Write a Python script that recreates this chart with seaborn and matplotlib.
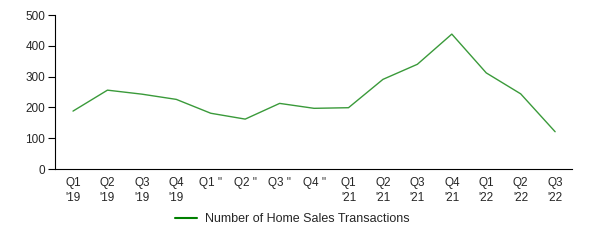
import matplotlib
matplotlib.use("Agg")
import matplotlib.pyplot as plt
import seaborn as sns
import pandas as pd

quarters = ["Q1\n'19", "Q2\n'19", "Q3\n'19", "Q4\n'19",
            "Q1 ''", "Q2 ''", "Q3 ''", "Q4 ''",
            "Q1\n'21", "Q2\n'21", "Q3\n'21", "Q4\n'21",
            "Q1\n'22", "Q2\n'22", "Q3\n'22"]
transactions = [188, 256, 243, 226, 181, 162, 213, 197, 199, 291, 340, 438, 312, 244, 121]
series_name = "Number of Home Sales Transactions"

sns.set_style("white")
plt.rcParams['font.family'] = ['Liberation Sans', 'DejaVu Sans']

df = pd.DataFrame({"x": range(len(quarters)), "y": transactions})

fig = plt.figure(figsize=(5.9, 2.4), dpi=100)
ax = fig.add_axes([55/590, 1-169/240, (572-55)/590, (169-15)/240])
sns.lineplot(data=df, x="x", y="y", ax=ax, color="#3a9a3a", linewidth=1.0,
             label=series_name)
ax.set_xlim(-0.523, 14.49)
ax.set_ylim(0, 500)
ax.set_yticks([0, 100, 200, 300, 400, 500])
ax.set_xticks(range(len(quarters)))
ax.set_xticklabels(quarters, fontsize=8.5, linespacing=1.25, va="top")
ax.tick_params(axis="x", length=0, pad=6)
ax.tick_params(axis="y", length=5, width=0.8, labelsize=8.5, pad=2, left=True, color="black")
ax.set_xlabel("")
ax.set_ylabel("")
for s in ["top", "right"]:
    ax.spines[s].set_visible(False)
for s in ["left", "bottom"]:
    ax.spines[s].set_color("black")
    ax.spines[s].set_linewidth(0.8)

leg = ax.legend(loc="center", bbox_to_anchor=((292-55)/517, (169-219)/154),
                frameon=False, fontsize=9, handlelength=1.8, handletextpad=0.6)
for h in leg.get_lines():
    h.set_color("#008000")
    h.set_linewidth(1.5)

fig.savefig("out.png", dpi=100)
